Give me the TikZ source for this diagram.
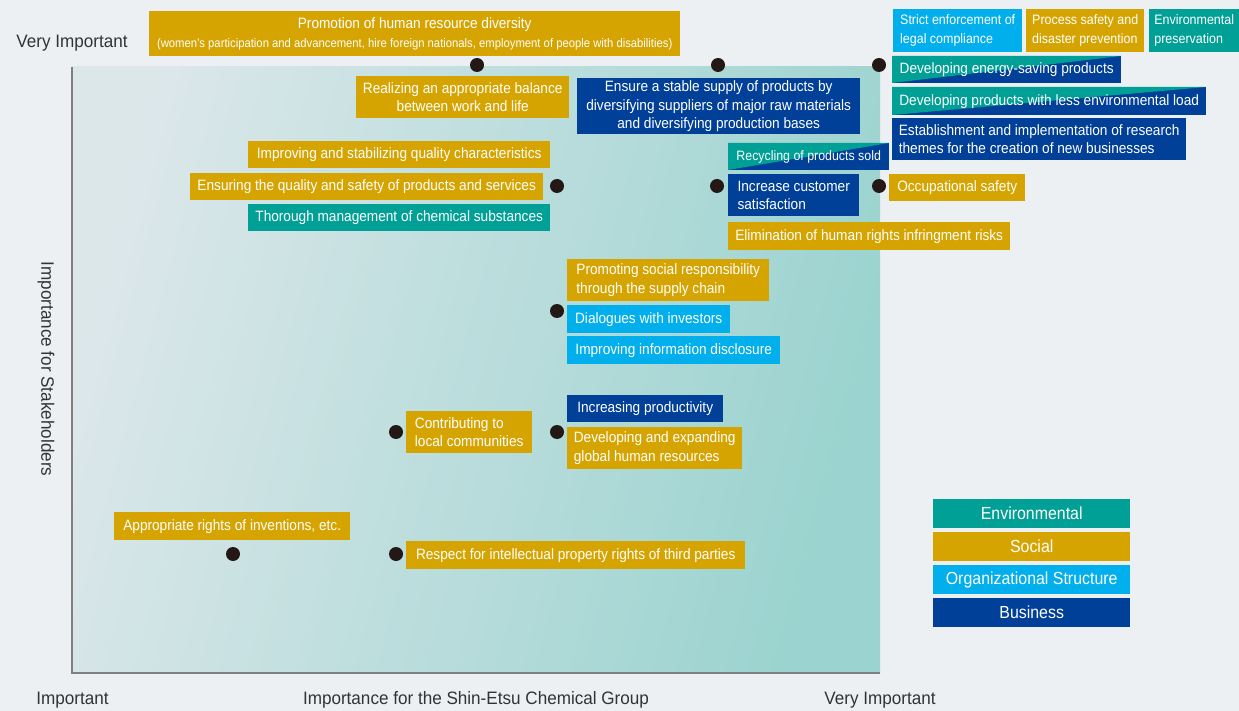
\documentclass[tikz,border=0pt]{standalone}
\usepackage{fontspec}
\setmainfont[FakeStretch=0.91]{Liberation Sans}
\newfontfamily\axisfont[FakeStretch=0.95]{Liberation Sans}
\usetikzlibrary{positioning}
\definecolor{cEnv}{HTML}{00A096}
\definecolor{cSoc}{HTML}{D6A400}
\definecolor{cOrg}{HTML}{00AFEC}
\definecolor{cBus}{HTML}{004098}
\definecolor{cBg}{HTML}{ECF0F3}
\definecolor{cPlotL}{HTML}{DCE7EA}
\definecolor{cPlotR}{HTML}{9AD3CF}
\definecolor{cDot}{HTML}{231815}
\definecolor{cAxis}{HTML}{808080}
\definecolor{cLab}{HTML}{333333}

\begin{document}
\begin{tikzpicture}[x=1pt,y=-1pt,font=\fontsize{15}{18.5}\selectfont,
  box/.style 2 args={anchor=north west,minimum width=#1,minimum height=#2,inner sep=0,align=left,text=white},
  env/.style={fill=cEnv}, soc/.style={fill=cSoc}, org/.style={fill=cOrg}, bus/.style={fill=cBus},
  narrow/.style={font=\fontsize{13.7}{18.5}\selectfont},
  dot/.style={circle,fill=cDot,minimum size=14,inner sep=0},
  axislab/.style={text=cLab,font=\axisfont\fontsize{18}{20}\selectfont}]
  \useasboundingbox (0,0) rectangle (1239,711);
  \fill[cBg] (0,0) rectangle (1239,711);
  \shade[left color=cPlotL,right color=cPlotR,shading angle=75] (72,67) rectangle (880,673);
  \coordinate (top) at (72,67);
  \coordinate (orig) at (72,673);
  \coordinate (right) at (880,673);
  \draw[cAxis,line width=1.6] (top) -- (orig) -- (right);

  % axis labels
  \node[axislab] (yhi) at (72,43) {Very Important};
  \node[axislab,rotate=-90] (ylab) at (46,369) {Importance for Stakeholders};
  \node[axislab] (xlo) at (72.5,700) {Important};
  \node[axislab] (xlab) at (476,700) {Importance for the Shin-Etsu Chemical Group};
  \node[axislab] (xhi) at (880,700) {Very Important};

  % two-coloured boxes (environmental / business)
  \foreach \x/\y/\w/\h in {892/56/229/27,892/87/314/28,728/143/161/27} {
    \fill[cBus] (\x,\y) rectangle ++(\w,\h);
    \fill[cEnv] (\x,\y) -- ++(\w,0) -- (\x,\y+\h) -- cycle;
  }

  % top row
  \node[box={531}{45},soc,align=center] (diversity) at (149,11) {Promotion of human resource diversity\\{\fontsize{12.4}{14}\selectfont (women's participation and advancement, hire foreign nationals, employment of people with disabilities)}};
  \node[box={213}{42},soc,align=center] (worklife) at (356,76) {Realizing an appropriate balance\\between work and life};
  \node[box={283}{56},bus,align=center] (supply) at (577,78) {Ensure a stable supply of products by\\diversifying suppliers of major raw materials\\and diversifying production bases};
  \node[box={129}{43},org,narrow] (legal) at (893,9) {Strict enforcement of\\legal compliance};
  \node[box={118}{43},soc,narrow] (process) at (1026,9) {Process safety and\\disaster prevention};
  \node[box={90}{43},env,narrow] (envpres) at (1149,9) {Environmental\\preservation};
  \node[box={229}{27}] (energy) at (892,56) {Developing energy-saving products};
  \node[box={314}{28}] (lessload) at (892,87) {Developing products with less environmental load};
  \node[box={294}{42},bus] (research) at (892,118) {Establishment and implementation of research\\themes for the creation of new businesses};

  % second row
  \node[box={302}{27},soc] (stabil) at (248,141) {Improving and stabilizing quality characteristics};
  \node[box={353}{27},soc] (quality) at (190,173) {Ensuring the quality and safety of products and services};
  \node[box={302}{27},env] (chemical) at (248,204) {Thorough management of chemical substances};
  \node[box={161}{27},font=\fontsize{13.6}{16}\selectfont] (recycle) at (728,143) {Recycling of products sold};
  \node[box={131}{42},bus] (customer) at (728,174) {Increase customer\\satisfaction};
  \node[box={136}{27},soc] (occup) at (889,174) {Occupational safety};
  \node[box={282}{28},soc] (rights) at (728,222) {Elimination of human rights infringment risks};

  % middle
  \node[box={202}{42},soc] (supplych) at (567,259) {Promoting social responsibility\\through the supply chain};
  \node[box={163}{28},org] (dialog) at (567,305) {Dialogues with investors};
  \node[box={213}{28},org] (disclose) at (567,336) {Improving information disclosure};
  \node[box={156}{27},bus] (product) at (567,395) {Increasing productivity};
  \node[box={175}{42},soc] (global) at (567,427) {Developing and expanding\\global human resources};
  \node[box={126}{42},soc] (local) at (406,411) {Contributing to\\local communities};

  % bottom
  \node[box={236}{28},soc] (invent) at (114,512) {Appropriate rights of inventions, etc.};
  \node[box={339}{28},soc] (thirdp) at (406,541) {Respect for intellectual property rights of third parties};

  \foreach \x/\y [count=\i] in {477/65,718/65,879/65,557/186,717/186,879/186,557/311,396/432,557/432,233/554,396/554}
    \node[dot] (p\i) at (\x,\y) {};

  \foreach \c/\t [count=\i] in {cEnv/Environmental,cSoc/Social,cOrg/Organizational Structure,cBus/Business}
    \node[box={197}{29},fill=\c,align=center,font=\fontsize{17.5}{20}\selectfont] (leg\i) at (933,{466+33*\i}) {\t};
\end{tikzpicture}
\end{document}
